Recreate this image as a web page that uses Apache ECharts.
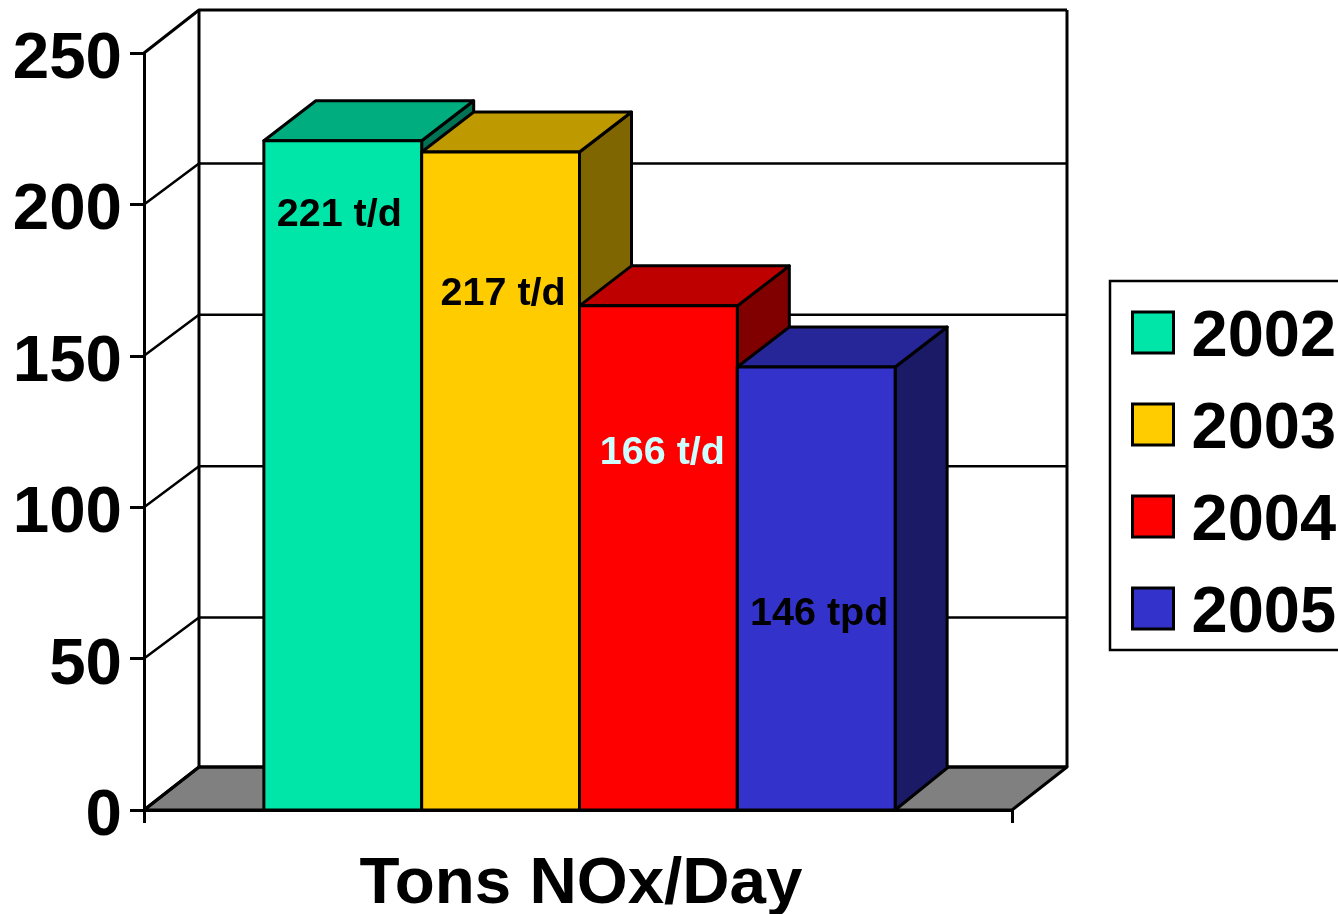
<!DOCTYPE html>
<html>
<head>
<meta charset="utf-8">
<title>Tons NOx/Day</title>
<script src="https://cdn.jsdelivr.net/npm/echarts@6/dist/echarts.min.js"></script>
<style>
  html, body { margin: 0; padding: 0; background: #fff; overflow: hidden; }
  #chart { width: 1338px; height: 914px; }
</style>
</head>
<body>
<div id="chart"></div>
<script>
// ---- Data ----
const categories = ['Tons NOx/Day'];
const years = ['2002', '2003', '2004', '2005'];
const noxValues = [221, 217.3, 166.5, 146.3];
const barLabels = ['221 t/d', '217 t/d', '166 t/d', '146 tpd'];
const yTicks = [0, 50, 100, 150, 200, 250];

// ---- Styles ----
const FONT = '"Liberation Sans", Arial, sans-serif';
const frontColors = ['#00E6A9', '#FFCC00', '#FF0000', '#3333CC'];
const topColors = ['#00AD7F', '#BF9900', '#BF0000', '#262699'];
const sideColors = ['#007355', '#806600', '#800000', '#1A1A66'];
const labelColors = ['#000000', '#000000', '#CCFFFF', '#000000'];
// label centre relative to bar centre / bar top, in px
const labelShiftX = [-3.5, 2.5, 4, 3];
const labelDropY = [74, 142, 147, 247];

const WALL_DX = 55, WALL_DY = 43, GRID_DY = 41;
const BAR_DX = 52, BAR_TOP_DY = 40, BAR_BASE_DY = 42;
const LINE = { stroke: '#000', lineWidth: 3, lineJoin: 'round' };

// Floor, back wall and gridlines, one item per y tick
function renderWalls(params, api) {
  const tick = api.value(1);
  const w = api.size([1, 0])[0];
  const p = api.coord([0, tick]);
  const left = p[0] - w / 2, right = p[0] + w / 2, y = p[1];
  const isEdge = tick === 0 || tick === 250;
  const dy = isEdge ? WALL_DY : GRID_DY;
  const children = [];

  if (tick === 0) {
    children.push({
      type: 'polygon',
      shape: { points: [[left, y], [left + WALL_DX, y - dy], [right + WALL_DX, y - dy], [right, y]] },
      style: { fill: '#808080', ...LINE }
    });
  }
  children.push({
    type: 'polyline',
    shape: { points: [[left, y], [left + WALL_DX, y - dy], [right + WALL_DX, y - dy]] },
    style: { fill: 'none', ...LINE, lineWidth: isEdge ? 3 : 2.5 }
  });
  if (tick === 250) {
    const base = api.coord([0, 0])[1] - WALL_DY;
    [left + WALL_DX, right + WALL_DX].forEach(x => {
      children.push({
        type: 'line',
        shape: { x1: x, y1: y - WALL_DY, x2: x, y2: base },
        style: LINE
      });
    });
  }
  return { type: 'group', children };
}

// One 3D looking box per year
function renderBar(idx) {
  return (params, api) => {
    const value = api.value(1);
    const w = api.size([1, 0])[0];
    const barW = w / 5.5;
    const top = api.coord([0, value]);
    const base = api.coord([0, 0])[1];
    const x0 = top[0] - 2 * barW + idx * barW + 1.5;
    const x1 = x0 + barW;
    const y = top[1];

    return {
      type: 'group',
      children: [
        {
          type: 'polygon',
          shape: { points: [[x1, y], [x1 + BAR_DX, y - BAR_TOP_DY], [x1 + BAR_DX, base - BAR_BASE_DY], [x1, base]] },
          style: { fill: sideColors[idx], ...LINE }
        },
        {
          type: 'polygon',
          shape: { points: [[x0, y], [x0 + BAR_DX, y - BAR_TOP_DY], [x1 + BAR_DX, y - BAR_TOP_DY], [x1, y]] },
          style: { fill: topColors[idx], ...LINE }
        },
        {
          type: 'rect',
          shape: { x: x0, y: y, width: barW, height: base - y },
          style: { fill: frontColors[idx], ...LINE }
        },
        {
          type: 'text',
          style: {
            x: (x0 + x1) / 2 + labelShiftX[idx],
            y: y + labelDropY[idx],
            text: barLabels[idx],
            fill: labelColors[idx],
            font: 'bold 39.5px ' + FONT,
            align: 'center',
            verticalAlign: 'middle'
          }
        }
      ]
    };
  };
}

const chart = echarts.init(document.getElementById('chart'));

const option = {
  animation: false,
  backgroundColor: '#fff',
  grid: { left: 144, right: 326, top: 53, bottom: 104, outerBoundsMode: 'none' },
  legend: {
    data: years,
    orient: 'vertical',
    left: 1110,
    top: 281,
    padding: [25, 40, 3, 21],
    itemWidth: 41,
    itemHeight: 41,
    itemGap: 27,
    icon: 'rect',
    selectedMode: false,
    backgroundColor: '#fff',
    borderColor: '#000',
    borderWidth: 2.5,
    itemStyle: { borderColor: '#000', borderWidth: 3 },
    formatter: name => `{t|${name}}`,
    textStyle: {
      color: '#000',
      padding: [0, 0, 0, 13],
      rich: { t: { color: '#000', fontFamily: FONT, fontWeight: 'bold', fontSize: 65, padding: [12, 0, 0, 0] } }
    }
  },
  xAxis: {
    type: 'category',
    data: categories,
    axisLine: { lineStyle: { color: '#000', width: 3 } },
    axisTick: { show: true, interval: 0, length: 13, lineStyle: { color: '#000', width: 3 } },
    axisLabel: { color: '#000', fontFamily: FONT, fontWeight: 'bold', fontSize: 65.5, margin: 42, padding: [0, 0, 0, 6] }
  },
  yAxis: {
    type: 'value',
    min: 0,
    max: 250,
    interval: 50,
    axisLine: { show: true, lineStyle: { color: '#000', width: 3 } },
    axisTick: { show: true, length: 14, lineStyle: { color: '#000', width: 3 } },
    splitLine: { show: false },
    axisLabel: {
      margin: 22,
      formatter: value => `{t|${value}}`,
      rich: { t: { color: '#000', fontFamily: FONT, fontWeight: 'bold', fontSize: 65.5, padding: [14, 0, 0, 0] } }
    }
  },
  series: [
    {
      type: 'custom',
      name: 'walls',
      silent: true,
      renderItem: renderWalls,
      data: yTicks.map(t => [0, t])
    },
    ...years.map((year, i) => ({
      type: 'custom',
      name: year,
      silent: true,
      itemStyle: { color: frontColors[i] },
      renderItem: renderBar(i),
      data: [[0, noxValues[i]]]
    }))
  ]
};

chart.setOption(option);
window.addEventListener('resize', () => chart.resize());
</script>
</body>
</html>
